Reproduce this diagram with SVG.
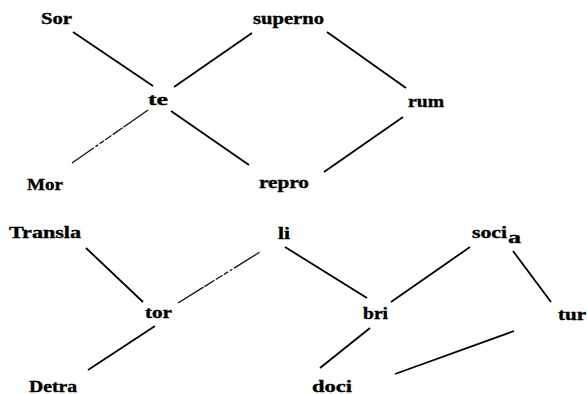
<svg xmlns="http://www.w3.org/2000/svg" width="587" height="394" viewBox="0 0 587 394">
  <style>
    .lbl { font-family: "Liberation Serif", "Times New Roman", serif; font-weight: bold; font-size: 16px; fill: #000; stroke: #000; stroke-width: 0.35; }
    .edge { stroke: #000; stroke-width: 1.8; stroke-linecap: butt; fill: none; }
    .faint { stroke: #111; stroke-width: 1.3; stroke-dasharray: 30 1 12 1.5 8 1.5 5 2 3 2; fill: none; }
  </style>
  <rect width="587" height="394" fill="#fff"/>

  <g id="connectors">
    <line class="edge" x1="73" y1="32" x2="153" y2="86"/>
    <line class="edge" x1="252" y1="33" x2="174" y2="87"/>
    <line class="faint" x1="148" y1="110" x2="72" y2="163"/>
    <line class="edge" x1="171" y1="111" x2="249" y2="165"/>
    <line class="edge" x1="327" y1="32" x2="406" y2="88"/>
    <line class="edge" x1="403" y1="117" x2="324" y2="172"/>
    <line class="edge" x1="86" y1="248" x2="143" y2="302"/>
    <line class="faint" x1="178" y1="303" x2="260" y2="252"/>
    <line class="edge" x1="155" y1="326" x2="88" y2="370"/>
    <line class="edge" x1="285" y1="247" x2="367" y2="298"/>
    <line class="edge" x1="470" y1="247" x2="391" y2="302"/>
    <line class="edge" x1="513" y1="251" x2="551" y2="302"/>
    <line class="edge" x1="514" y1="331" x2="395" y2="374"/>
    <line class="edge" x1="370" y1="328" x2="320" y2="368"/>
  </g>

  <g id="node-sor"><text class="lbl" x="41" y="24" textLength="31" lengthAdjust="spacingAndGlyphs">Sor</text></g>
  <g id="node-superno"><text class="lbl" x="253" y="24" textLength="71" lengthAdjust="spacingAndGlyphs">superno</text></g>
  <g id="node-te"><text class="lbl" x="148" y="105" textLength="20" lengthAdjust="spacingAndGlyphs">te</text></g>
  <g id="node-rum"><text class="lbl" x="408" y="107" textLength="36" lengthAdjust="spacingAndGlyphs">rum</text></g>
  <g id="node-mor"><text class="lbl" x="27" y="190" textLength="36" lengthAdjust="spacingAndGlyphs">Mor</text></g>
  <g id="node-repro"><text class="lbl" x="259" y="188" textLength="50" lengthAdjust="spacingAndGlyphs">repro</text></g>
  <g id="node-transla"><text class="lbl" x="9" y="238" textLength="72" lengthAdjust="spacingAndGlyphs">Transla</text></g>
  <g id="node-li"><text class="lbl" x="278" y="239" textLength="12" lengthAdjust="spacingAndGlyphs">li</text></g>
  <g id="node-socia">
    <text class="lbl" x="472" y="238" textLength="35" lengthAdjust="spacingAndGlyphs">soci</text>
    <text class="lbl" x="508" y="243" textLength="13" lengthAdjust="spacingAndGlyphs">a</text>
  </g>
  <g id="node-tor"><text class="lbl" x="145" y="318" textLength="27" lengthAdjust="spacingAndGlyphs">tor</text></g>
  <g id="node-bri"><text class="lbl" x="363" y="319" textLength="25" lengthAdjust="spacingAndGlyphs">bri</text></g>
  <g id="node-tur"><text class="lbl" x="558" y="320" textLength="28" lengthAdjust="spacingAndGlyphs">tur</text></g>
  <g id="node-detra"><text class="lbl" x="29" y="392" textLength="48" lengthAdjust="spacingAndGlyphs">Detra</text></g>
  <g id="node-doci"><text class="lbl" x="312" y="392" textLength="40" lengthAdjust="spacingAndGlyphs">doci</text></g>
</svg>
